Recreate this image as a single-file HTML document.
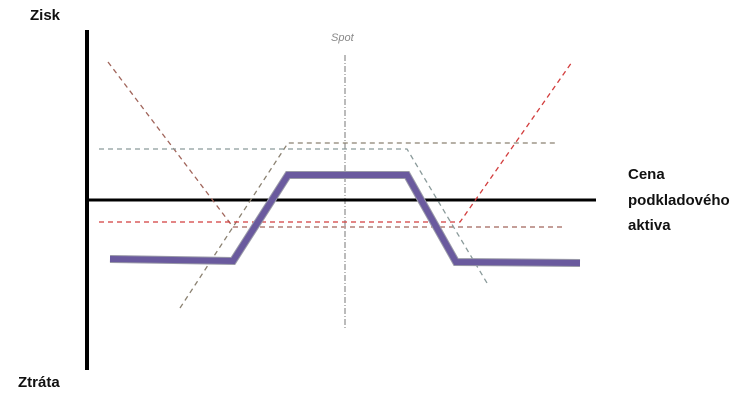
<!DOCTYPE html>
<html><head><meta charset="utf-8"><style>
html,body{margin:0;padding:0;background:#fff;width:750px;height:401px;overflow:hidden}
</style></head><body>
<svg width="750" height="401" viewBox="0 0 750 401" xmlns="http://www.w3.org/2000/svg">
<g font-family="Liberation Sans, sans-serif">
<text x="30" y="20" font-size="15" font-weight="bold" fill="#111">Zisk</text>
<text x="18" y="387" font-size="15" font-weight="bold" fill="#111">Ztráta</text>
<text x="628" y="179" font-size="15" font-weight="bold" fill="#111">Cena</text>
<text x="628" y="205" font-size="15" font-weight="bold" fill="#111">podkladového</text>
<text x="628" y="230" font-size="15" font-weight="bold" fill="#111">aktiva</text>
<text x="331" y="41" font-size="11" font-style="italic" fill="#888">Spot</text>
</g>
<line x1="345" y1="55" x2="345" y2="330" stroke="#777" stroke-width="1" stroke-dasharray="6,2,1,2"/>
<line x1="87" y1="30" x2="87" y2="370" stroke="#000" stroke-width="4"/>
<line x1="87" y1="200" x2="596" y2="200" stroke="#000" stroke-width="3"/>
<g fill="none" stroke-width="1.3" stroke-dasharray="5,4">
<polyline points="108,62 233,227 562,227" stroke="#a0645a"/>
<polyline points="180,308 288,143 555,143" stroke="#8a8070"/>
<polyline points="99,149 407,149 487,283" stroke="#8a9a9a"/>
<polyline points="99,222 460,222 572,62" stroke="#d23c3c"/>
</g>
<polyline points="110,259 233,261 288,175 407,175 456,262 580,263" fill="none" stroke="#9a9aa8" stroke-width="8"/>
<polyline points="110,259 233,261 288,175 407,175 456,262 580,263" fill="none" stroke="#6a5a9e" stroke-width="6"/>
</svg>
</body></html>
